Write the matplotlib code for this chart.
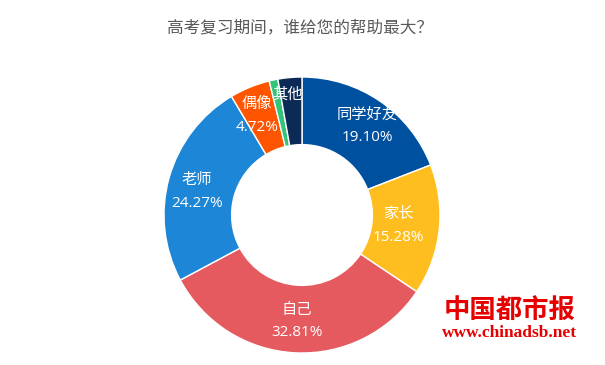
import numpy as np
import matplotlib
matplotlib.use("Agg")
import matplotlib.pyplot as plt

plt.rcParams['font.family'] = ['Noto Sans CJK SC', 'DejaVu Sans']

title = "高考复习期间，谁给您的帮助最大？"
categories = ["同学好友", "家长", "自己", "老师", "偶像", "", "其他"]
values = [19.10, 15.28, 32.81, 24.27, 4.72, 1.02, 2.80]
pct_labels = ["19.10%", "15.28%", "32.81%", "24.27%", "4.72%", "", ""]
colors = ["#0050A0", "#FFBE20", "#E55A5E", "#1E86D6", "#FF5500", "#33C47A", "#0B2A55"]
# label placement (radius fraction, angular tweak in degrees)
label_r = [0.80, 0.70, 0.77, 0.78, 0.79, 0.0, 0.88]
label_da = [-2, 0, 0, 3, 2, 0, 2]

fig = plt.figure(figsize=(6.05, 3.65), dpi=100)
ax = fig.add_axes([164/605, 12/365, 276/605, 276/365])

wedges, _ = ax.pie(values, colors=colors, startangle=90, counterclock=False,
                   radius=1.0,
                   wedgeprops=dict(width=0.49, edgecolor='white', linewidth=1.0))
ax.set_xlim(-1, 1)
ax.set_ylim(-1, 1)
ax.set_aspect('equal')
ax.axis('off')

total = sum(values)
cum = 0.0
for cat, v, p, r, da in zip(categories, values, pct_labels, label_r, label_da):
    mid = cum + v / 2
    cum += v
    if not cat:
        continue
    ang = np.deg2rad(90 - mid / total * 360 + da)
    x, y = r * np.cos(ang), r * np.sin(ang)
    if p:
        ax.text(x, y + 0.085, cat, ha='center', va='center', color='white', fontsize=11)
        ax.text(x, y - 0.085, p, ha='center', va='center', color='white', fontsize=11,
                family=['Open Sans', 'DejaVu Sans'])
    else:
        ax.text(x, y, cat, ha='center', va='center', color='white', fontsize=11)

fig.text(300/605, 1 - 28/365, title, ha='center', va='center', color='#595959', fontsize=12)

fig.text(510/605, 1 - 311/365, "中国都市报", ha='center', va='center', color='#E60000',
         fontsize=19, fontweight='bold')
fig.text(510/605, 1 - 333/365, "www.chinadsb.net", ha='center', va='center', color='#E60000',
         fontsize=12.5, fontweight='bold', family=['Liberation Serif'])

fig.savefig("out.png", dpi=100, facecolor='white')
